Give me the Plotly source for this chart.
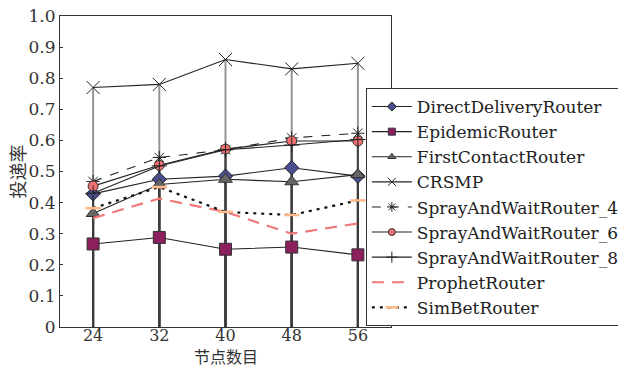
import plotly.graph_objects as go

nodes = [24, 32, 40, 48, 56]
direct_delivery = [0.428, 0.475, 0.485, 0.512, 0.485]
epidemic = [0.267, 0.288, 0.250, 0.257, 0.232]
first_contact = [0.365, 0.458, 0.475, 0.467, 0.490]
crsmp = [0.770, 0.780, 0.860, 0.830, 0.848]
spray4 = [0.468, 0.545, 0.570, 0.608, 0.623]
spray6 = [0.453, 0.520, 0.572, 0.598, 0.598]
spray8 = [0.430, 0.518, 0.570, 0.585, 0.603]
prophet = [0.350, 0.413, 0.370, 0.300, 0.333]
simbet = [0.382, 0.450, 0.370, 0.360, 0.407]

y_ticks = [0, 0.1, 0.2, 0.3, 0.4, 0.5, 0.6, 0.7, 0.8, 0.9, 1.0]
y_tick_labels = ["0", "0.1", "0.2", "0.3", "0.4", "0.5", "0.6", "0.7", "0.8", "0.9", "1.0"]
x_title = "节点数目"
y_title = "投递率"

FONT = "DejaVu Serif"
CJK = "Noto Sans CJK SC"
LINE = "#222222"

series = [
    dict(name="DirectDeliveryRouter", y=direct_delivery, dash="solid", lcolor=LINE,
         marker=dict(symbol="diamond", size=11, color="#4b4f8f", line=dict(color="#222", width=1)), lsize=7),
    dict(name="EpidemicRouter", y=epidemic, dash="solid", lcolor=LINE,
         marker=dict(symbol="square", size=12, color="#8c1f5e", line=dict(color="#333", width=1)), lsize=7),
    dict(name="FirstContactRouter", y=first_contact, dash="solid", lcolor=LINE,
         marker=dict(symbol="triangle-up", size=12, color="#666666", line=dict(color="#333", width=1)), lsize=7),
    dict(name="CRSMP", y=crsmp, dash="solid", lcolor=LINE,
         marker=dict(symbol="x-thin-open", size=13, color="#222", line=dict(color="#222", width=1)), lsize=8),
    dict(name="SprayAndWaitRouter_4", y=spray4, dash="dash", lcolor=LINE,
         marker=dict(symbol="asterisk-open", size=11, color="#222", line=dict(color="#222", width=1)), lsize=8),
    dict(name="SprayAndWaitRouter_6", y=spray6, dash="solid", lcolor=LINE,
         marker=dict(symbol="circle", size=10, color="#f07070", line=dict(color="#333", width=1)), lsize=7),
    dict(name="SprayAndWaitRouter_8", y=spray8, dash="solid", lcolor=LINE,
         marker=dict(symbol="cross-thin-open", size=11, color="#222", line=dict(color="#222", width=1)), lsize=8),
    dict(name="ProphetRouter", y=prophet, dash="12px,8px", lcolor="#f07878", lwidth=2.2,
         marker=None, lsize=0),
    dict(name="SimBetRouter", y=simbet, dash="3px,5px", lcolor="#111111", lwidth=2.2,
         marker=dict(symbol="line-ew-open", size=11, color="#ffb88a", line=dict(color="#ffb88a", width=2.5)), lsize=9),
]

fig = go.Figure()

for s in series:
    sx, sy = [], []
    for xv, yv in zip(nodes, s["y"]):
        sx += [xv, xv, None]
        sy += [0, yv, None]
    fig.add_trace(go.Scatter(x=sx, y=sy, mode="lines", showlegend=False, hoverinfo="skip",
                             line=dict(color="rgba(60,60,60,0.55)", width=2)))

for s in series:
    mode = "lines+markers" if s["marker"] else "lines"
    kw = dict(marker=s["marker"]) if s["marker"] else {}
    fig.add_trace(go.Scatter(x=nodes, y=s["y"], name=s["name"], mode=mode, showlegend=False,
                             line=dict(color=s["lcolor"], width=s.get("lwidth", 1.1), dash=s["dash"]),
                             **kw))

for s in series:
    mode = "lines+markers" if s["marker"] else "lines"
    kw = {}
    if s["marker"]:
        m = dict(s["marker"])
        m["size"] = s["lsize"]
        kw["marker"] = m
    fig.add_trace(go.Scatter(x=[None], y=[None], name=s["name"], mode=mode, showlegend=True,
                             line=dict(color=s["lcolor"], width=s.get("lwidth", 1.1), dash=s["dash"]),
                             **kw))

fig.update_layout(
    width=618, height=369,
    margin=dict(l=60, r=227, t=16, b=42, autoexpand=False),
    paper_bgcolor="white", plot_bgcolor="white",
    font=dict(family=FONT, size=17, color="#333"),
    showlegend=True,
    legend=dict(x=0.924, y=0.7685, xanchor="left", yanchor="top",
                bgcolor="white", bordercolor="#333", borderwidth=1,
                font=dict(family=FONT, size=17, color="#222"),
                tracegroupgap=0, itemwidth=40),
    xaxis=dict(range=[20, 60], tickvals=nodes, ticktext=[str(n) for n in nodes],
               showgrid=False, zeroline=False, showline=True, linecolor="#333", linewidth=1,
               mirror=True, ticks="inside", ticklen=3, tickcolor="#333", automargin=False,
               ticklabelstandoff=-6, tickfont=dict(size=16)),
    yaxis=dict(range=[0, 1.0], tickvals=y_ticks, ticktext=y_tick_labels,
               showgrid=False, zeroline=False, showline=True, linecolor="#333", linewidth=1,
               mirror=True, ticks="inside", ticklen=3, tickcolor="#333", automargin=False),
    annotations=[
        dict(text=x_title, xref="paper", yref="paper", x=0.5, y=-0.135, xanchor="center",
             yanchor="bottom", showarrow=False, borderpad=0,
             font=dict(family=CJK, size=16, color="#333")),
        dict(text=y_title, xref="paper", yref="paper", x=-0.13, y=0.5, xanchor="center",
             yanchor="middle", textangle=-90, showarrow=False,
             font=dict(family=CJK, size=18, color="#333")),
    ],
)

fig.write_html("out.html")
